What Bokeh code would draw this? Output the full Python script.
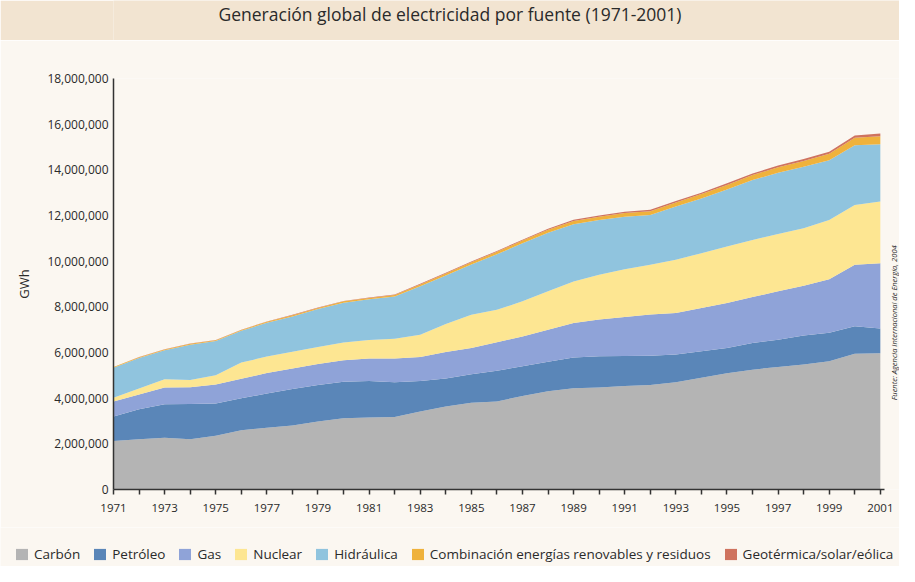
import math
from bokeh.plotting import figure
from bokeh.models import (ColumnDataSource, FixedTicker, NumeralTickFormatter,
                          Legend, LegendItem, Label, Range1d)
from bokeh.layouts import column
from bokeh.embed import file_html
from bokeh.resources import INLINE

# ---------------- data (GWh) ----------------
years = list(range(1971, 2002))

carbon = [2120000, 2200000, 2270000, 2200000, 2350000, 2600000, 2700000, 2800000,
          2980000, 3120000, 3150000, 3180000, 3420000, 3630000, 3800000, 3850000,
          4100000, 4300000, 4430000, 4470000, 4530000, 4580000, 4700000, 4890000,
          5090000, 5250000, 5370000, 5470000, 5620000, 5950000, 5970000]
petroleo = [1080000, 1310000, 1460000, 1540000, 1420000, 1400000, 1500000, 1600000,
            1600000, 1600000, 1600000, 1520000, 1330000, 1230000, 1250000, 1350000,
            1300000, 1300000, 1350000, 1370000, 1320000, 1280000, 1210000, 1170000,
            1110000, 1170000, 1190000, 1270000, 1240000, 1200000, 1080000]
gas = [650000, 650000, 740000, 740000, 830000, 850000, 900000, 900000,
       920000, 940000, 990000, 1040000, 1050000, 1160000, 1150000, 1250000,
       1300000, 1400000, 1510000, 1600000, 1710000, 1800000, 1820000, 1890000,
       1970000, 2010000, 2120000, 2180000, 2350000, 2690000, 2860000]
nuclear = [170000, 260000, 360000, 320000, 400000, 710000, 720000, 730000,
           740000, 780000, 810000, 860000, 980000, 1230000, 1450000, 1420000,
           1540000, 1680000, 1820000, 1960000, 2090000, 2180000, 2330000, 2400000,
           2470000, 2500000, 2510000, 2520000, 2590000, 2620000, 2700000]
hidraulica = [1310000, 1340000, 1270000, 1540000, 1500000, 1390000, 1480000, 1550000,
              1660000, 1740000, 1780000, 1850000, 2120000, 2120000, 2200000, 2430000,
              2540000, 2570000, 2510000, 2400000, 2300000, 2180000, 2330000, 2400000,
              2500000, 2620000, 2680000, 2690000, 2620000, 2620000, 2510000]
renovables = [30000, 30000, 30000, 40000, 40000, 40000, 50000, 50000,
              50000, 60000, 60000, 70000, 80000, 90000, 100000, 110000,
              120000, 130000, 140000, 150000, 160000, 170000, 180000, 190000,
              200000, 220000, 240000, 260000, 280000, 320000, 350000]
geotermica = [10000, 10000, 10000, 10000, 10000, 10000, 10000, 20000,
              20000, 20000, 20000, 20000, 30000, 30000, 30000, 40000,
              40000, 40000, 50000, 50000, 50000, 60000, 60000, 60000,
              70000, 70000, 80000, 80000, 90000, 100000, 120000]

series_names = ["Carbón", "Petróleo", "Gas", "Nuclear", "Hidráulica",
                "Combinación energías renovables y residuos",
                "Geotérmica/solar/eólica"]
series_keys = ["carbon", "petroleo", "gas", "nuclear", "hidraulica",
               "renovables", "geotermica"]
series_colors = ["#b4b4b4", "#5a86b8", "#8fa3d8", "#fde692", "#90c4de",
                 "#efb23c", "#cf735f"]

y_ticks = list(range(0, 18000001, 2000000))
x_major = [y for y in years if (y - 1971) % 2 == 0]
x_minor = [y for y in years if (y - 1971) % 2 == 1]

title_text = "Generación global de electricidad por fuente (1971-2001)"
source_text = "Fuente: Agencia Internacional de Energía, 2004"

CREAM = "#fbf7f1"
BEIGE = "#f2e4d1"
TXT = "#2a2a2a"
FONT = "Open Sans"

source = ColumnDataSource(dict(year=years, carbon=carbon, petroleo=petroleo, gas=gas,
                               nuclear=nuclear, hidraulica=hidraulica,
                               renovables=renovables, geotermica=geotermica))

LEFT = 113  # left border shared by the stacked figures

# ---------------- banner ----------------
banner = figure(width=899, height=40, x_range=Range1d(0, 1), y_range=Range1d(0, 1),
                toolbar_location=None, output_backend="svg", min_border=0,
                min_border_left=LEFT, min_border_right=0,
                x_axis_location=None, y_axis_location=None)
banner.grid.visible = False
banner.outline_line_color = None
banner.background_fill_color = BEIGE
banner.border_fill_color = BEIGE
banner.add_layout(Label(x=(449.5 - LEFT) / (899 - LEFT), y=0.66, text=title_text,
                        text_align="center", text_baseline="middle", text_font=FONT,
                        text_font_size="17.5px", text_color=TXT))

# ---------------- main plot ----------------
p = figure(width=899, height=487, x_range=Range1d(1971, 2001.75),
           y_range=Range1d(0, 18000000), toolbar_location=None,
           output_backend="svg", min_border_left=LEFT, min_border_right=0,
           min_border_top=38, min_border_bottom=38)
p.background_fill_color = CREAM
p.border_fill_color = CREAM
p.outline_line_color = None
p.grid.visible = False

renderers = p.varea_stack(stackers=series_keys, x="year", color=series_colors,
                          source=source)

# axes
xa = p.xaxis[0]
xa.bounds = (1971, 2001.15)
xa.ticker = FixedTicker(ticks=x_major, minor_ticks=x_minor)
xa.major_tick_in = 0
xa.major_tick_out = 5
xa.minor_tick_in = 0
xa.minor_tick_out = 5
xa.axis_line_width = 1.5
xa.axis_line_color = "#333333"
xa.major_tick_line_color = "#333333"
xa.minor_tick_line_color = "#333333"
xa.major_tick_line_width = 1.5
xa.minor_tick_line_width = 1.5
xa.major_label_text_font = FONT
xa.major_label_text_font_size = "11.5px"
xa.major_label_text_color = TXT
xa.major_label_standoff = 9

ya = p.yaxis[0]
ya.ticker = FixedTicker(ticks=y_ticks)
ya.formatter = NumeralTickFormatter(format="0,0")
ya.major_tick_in = 0
ya.major_tick_out = 0
ya.minor_tick_out = 0
ya.axis_line_width = 1.5
ya.axis_line_color = "#333333"
ya.major_label_text_font = FONT
ya.major_label_text_font_size = "12px"
ya.major_label_text_color = TXT
ya.major_label_standoff = 5
ya.axis_label = "GWh"
ya.axis_label_text_font = FONT
ya.axis_label_text_font_size = "13px"
ya.axis_label_text_font_style = "normal"
ya.axis_label_text_color = TXT
ya.axis_label_standoff = 11

# source note (rotated, right side)
p.add_layout(Label(x=2001.52, y=7300000, text=source_text, angle=math.pi / 2,
                   text_align="center", text_baseline="middle", text_font=FONT,
                   text_font_size="7.5px", text_font_style="italic",
                   text_color=TXT))

# ---------------- legend strip ----------------
lg = figure(width=899, height=39, x_range=Range1d(0, 1), y_range=Range1d(0, 1),
            toolbar_location=None, output_backend="svg", min_border=0,
            x_axis_location=None, y_axis_location=None)
lg.grid.visible = False
lg.outline_line_color = None
lg.background_fill_color = CREAM
lg.border_fill_color = CREAM
swatches = [lg.quad(left=[-2], right=[-1], bottom=[-2], top=[-1], fill_color=c,
                    line_color=None) for c in series_colors]
items = [LegendItem(label=n, renderers=[r]) for n, r in zip(series_names, swatches)]
legend = Legend(items=items, orientation="horizontal", location=(14, 3),
                glyph_width=15, glyph_height=14, label_height=14,
                label_standoff=5, spacing=12, padding=0, margin=0,
                label_text_font=FONT, label_text_font_size="13.5px",
                label_text_color=TXT, border_line_alpha=0,
                background_fill_alpha=0)
lg.add_layout(legend)

layout = column(column(banner, p, spacing=0), lg, spacing=0)
open("out.html", "w").write(file_html(layout, INLINE))
